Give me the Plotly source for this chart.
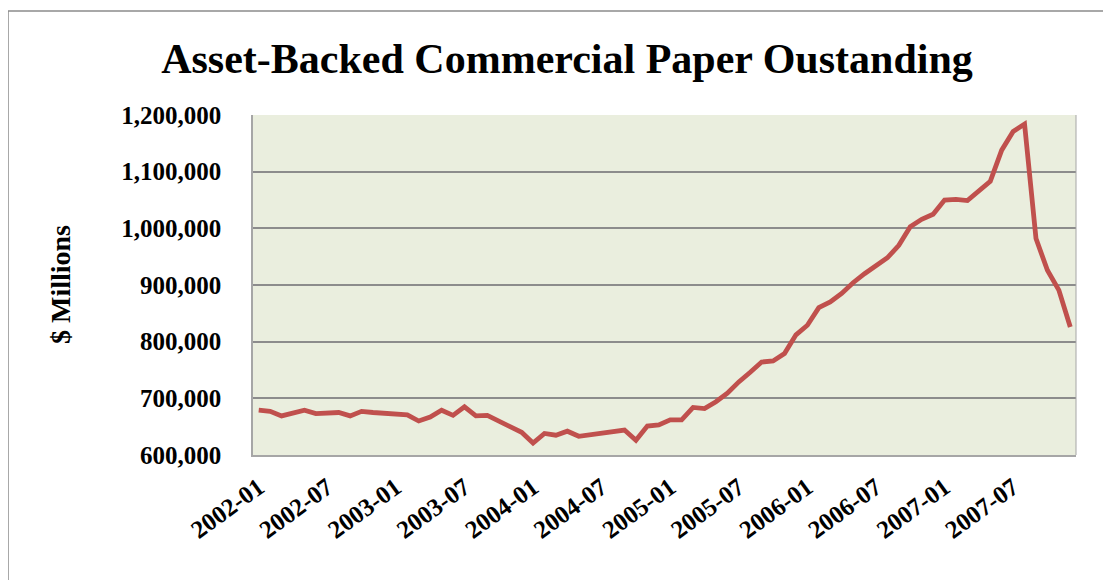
import plotly.graph_objects as go

# monthly observations, 2002-01 .. 2007-12
months = [f"{y}-{m:02d}" for y in range(2002, 2008) for m in range(1, 13)]
abcp = [
    679000, 677000, 669000, 673000, 679000, 673000, 673000, 675000, 669000, 677000,
    675000, 674000, 673000, 671000, 660000, 667000, 679000, 670000, 685000, 669000,
    670000, 660000, 650000, 640000, 621000, 638000, 635000, 642000, 633000, 636000,
    640000, 642000, 644000, 626000, 651000, 653000, 662000, 662000, 684000, 682000,
    694000, 709000, 729000, 746000, 764000, 766000, 779000, 812000, 829000, 860000,
    870000, 885000, 904000, 920000, 935000, 948000, 970000, 1003000, 1016000, 1025000,
    1050000, 1051000, 1049000, 1065000, 1083000, 1138000, 1171000, 1184000, 982000, 926000,
    891000, 826000,
]
tick_labels = months[::6]
y_ticks = [600000, 700000, 800000, 900000, 1000000, 1100000, 1200000]

SERIF = "Liberation Serif, Times New Roman, serif"

# page has an 8px body margin, so figure coords = screen coords - 8
OFF = 8
W, H = 1111 - OFF, 580 - OFF
L, R, T, B = 253 - OFF, 1076 - OFF, 115 - OFF, 455 - OFF


def px_x(p):
    return (p - OFF - L) / (R - L)


def px_y(p):
    return (B - (p - OFF)) / (B - T)


fig = go.Figure()
fig.add_trace(go.Scatter(
    x=months, y=abcp, mode="lines",
    line=dict(color="#C0504D", width=4.8),
    showlegend=False,
))

fig.update_layout(
    width=W, height=H,
    margin=dict(l=L, r=W - R, t=T, b=H - B),
    paper_bgcolor="white",
    plot_bgcolor="#EAEEDE",
    font=dict(family=SERIF, color="black"),
    title=dict(
        text="<b>Asset-Backed Commercial Paper Oustanding</b>",
        x=(567 - OFF) / W, xanchor="center", xref="container",
        y=1 - (58 - OFF) / H, yanchor="middle", yref="container",
        font=dict(size=42, family=SERIF, color="black"),
    ),
    xaxis=dict(
        type="category",
        tickmode="array", tickvals=tick_labels,
        ticktext=[f"<b>{t}</b>" for t in tick_labels],
        tickangle=-36,
        tickfont=dict(size=25, family=SERIF),
        showgrid=False, zeroline=False,
        showline=True, linecolor="#A6A6A6", linewidth=2,
        ticks="outside", ticklen=6, tickcolor="rgba(0,0,0,0)",
        range=[-0.5, len(months) - 0.5],
    ),
    yaxis=dict(
        range=[600000, 1200000],
        tickvals=y_ticks,
        ticktext=[f"<b>{v:,}</b>" for v in y_ticks],
        tickfont=dict(size=25, family=SERIF),
        showgrid=True, gridcolor="#8C8C8C", gridwidth=1.5,
        zeroline=False,
        showline=True, linecolor="#A6A6A6", linewidth=1.5,
        ticks="outside", ticklen=25, tickcolor="rgba(0,0,0,0)",
    ),
    annotations=[dict(
        text="<b>$ Millions</b>", textangle=-90,
        x=px_x(60), y=0.5, xref="paper", yref="paper",
        xanchor="center", yanchor="middle", showarrow=False,
        font=dict(size=28, family=SERIF, color="black"),
    )],
    shapes=[
        dict(type="rect", xref="paper", yref="paper",
             x0=px_x(8), x1=px_x(1107), y0=px_y(600), y1=px_y(11),
             line=dict(color="#8C8C8C", width=1.5), layer="below"),
        dict(type="line", xref="paper", yref="paper",
             x0=1, x1=1, y0=0, y1=1,
             line=dict(color="#A6A6A6", width=1)),
    ],
)

fig.write_html("out.html")
